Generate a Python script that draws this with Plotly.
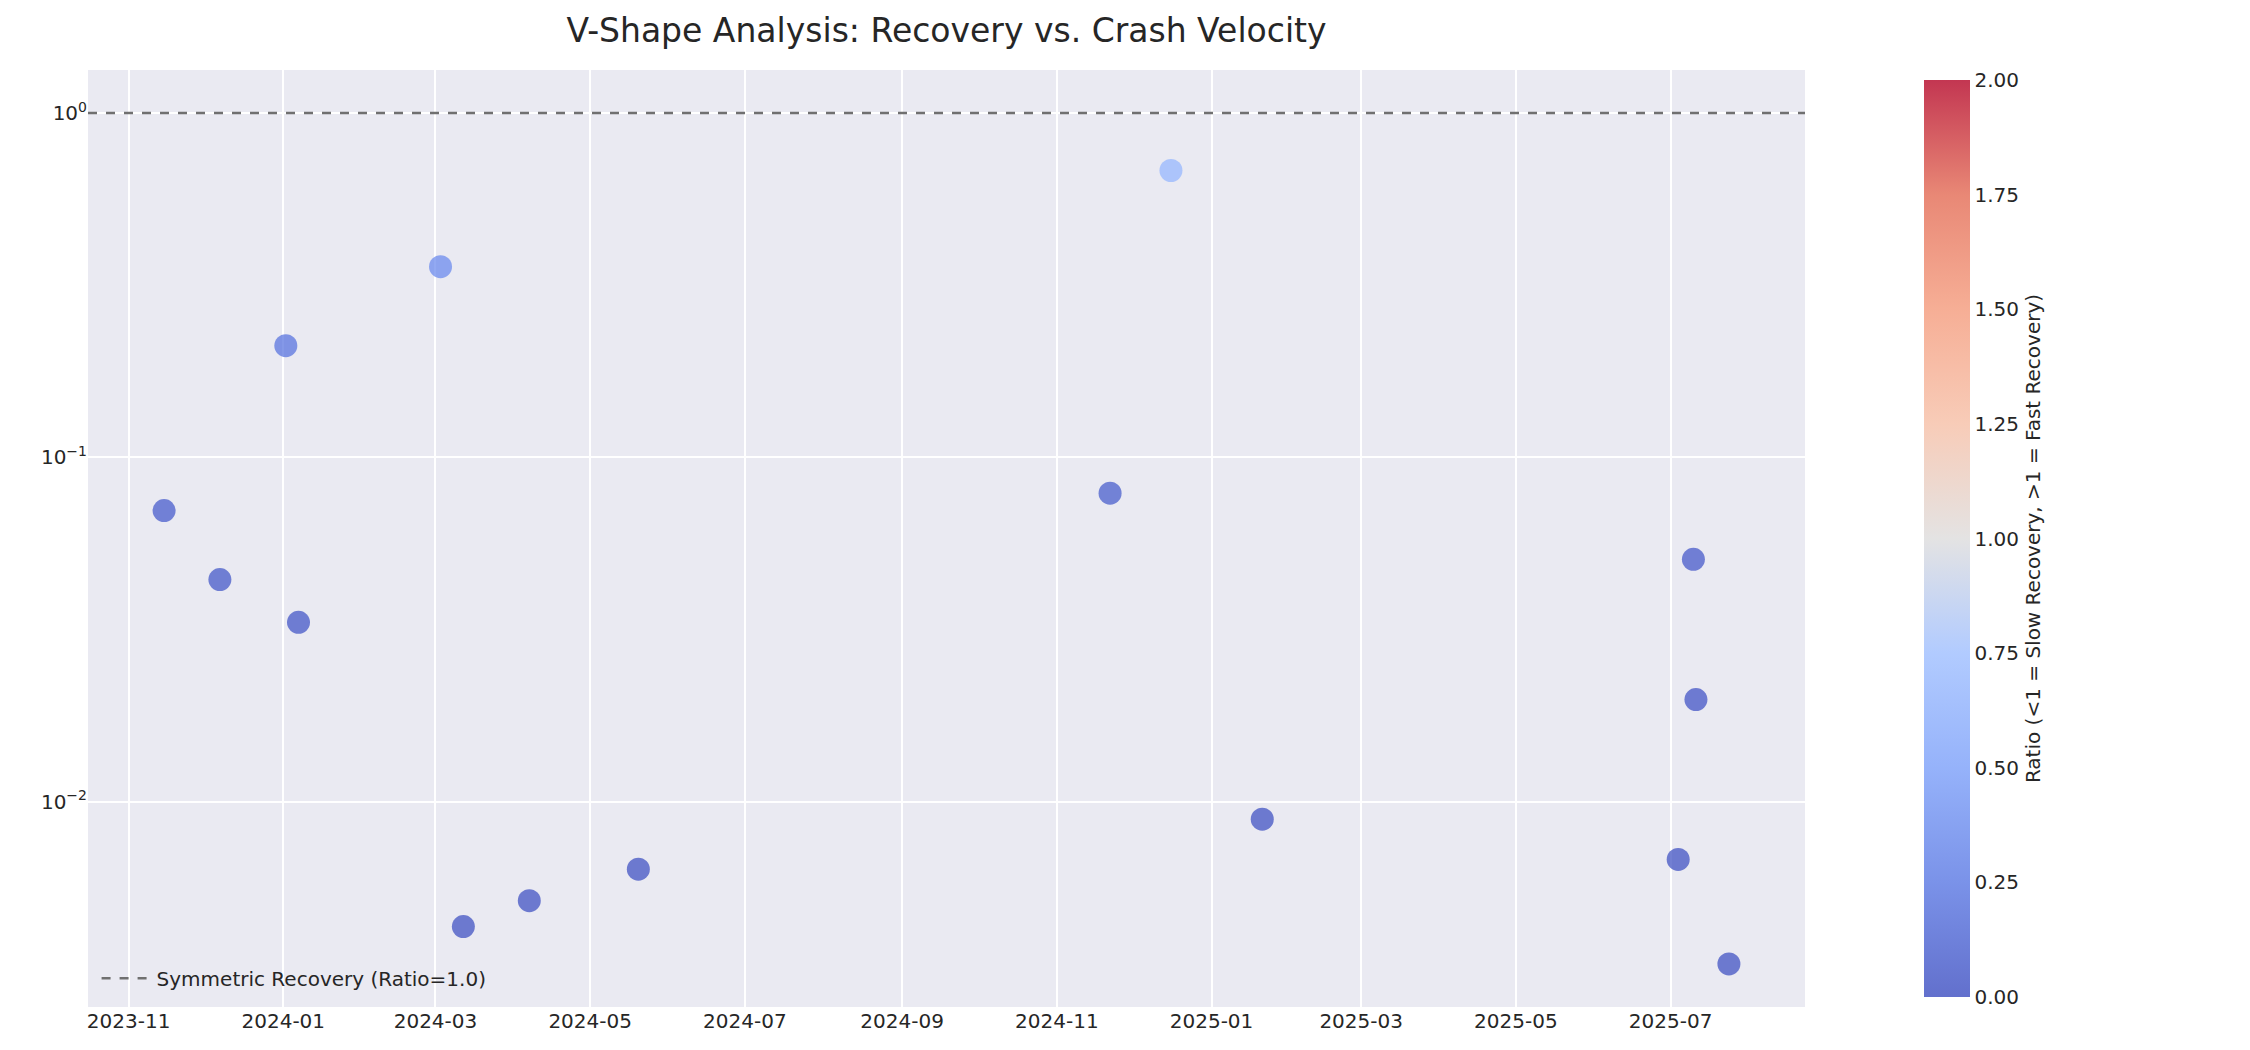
import plotly.graph_objects as go

dates = ["2023-11-15","2023-12-07","2024-01-02","2024-01-07","2024-03-03","2024-03-12",
         "2024-04-07","2024-05-20","2024-11-22","2024-12-16","2025-01-21","2025-07-04",
         "2025-07-10","2025-07-11","2025-07-24"]
ratios = [0.0701,0.0442,0.211,0.0332,0.358,0.00434,0.00516,0.00637,0.0787,0.681,
          0.0089,0.0068,0.0506,0.0198,0.00338]
xticks = ["2023-11-01","2024-01-01","2024-03-01","2024-05-01","2024-07-01","2024-09-01",
          "2024-11-01","2025-01-01","2025-03-01","2025-05-01","2025-07-01"]
xticklabels = [d[:7] for d in xticks]
yticks = [1, 0.1, 0.01]
yticklabels = ["10<sup>0</sup>", "10<sup>−1</sup>", "10<sup>−2</sup>"]

coolwarm = [[0.0,"rgba(59,76,192,0.8)"],[0.125,"rgba(89,119,227,0.8)"],[0.25,"rgba(123,159,249,0.8)"],
            [0.375,"rgba(158,190,255,0.8)"],[0.5,"rgba(221,220,220,0.8)"],[0.625,"rgba(246,191,166,0.8)"],
            [0.75,"rgba(244,154,123,0.8)"],[0.875,"rgba(227,106,83,0.8)"],[1.0,"rgba(180,4,38,0.8)"]]

fig = go.Figure()
fig.add_trace(go.Scatter(x=["2023-10-16","2025-08-23"], y=[1,1], mode="lines",
    line=dict(color="#707070", dash="dash", width=2.5),
    name="Symmetric Recovery (Ratio=1.0)"))
fig.add_trace(go.Scatter(x=dates, y=ratios, mode="markers", showlegend=False,
    marker=dict(size=23, color=ratios, colorscale=coolwarm, cmin=0, cmax=2, opacity=0.9,
                line=dict(width=0),
                colorbar=dict(x=1.0635, xanchor="left", y=0, yanchor="bottom", len=1,
                              thickness=46, outlinewidth=0, tickvals=[0,0.25,0.5,0.75,1,1.25,1.5,1.75,2],
                              ticktext=["0.00","0.25","0.50","0.75","1.00","1.25","1.50","1.75","2.00"],
                              tickfont=dict(size=20, color="#262626"), ticks="",
                              title=dict(text="Ratio (<1 = Slow Recovery, >1 = Fast Recovery)",
                                         side="right", font=dict(size=20, color="#262626"))))))

fig.update_layout(width=2250, height=1050, margin=dict(l=80, r=453, t=62, b=51, autoexpand=False),
    paper_bgcolor="white", plot_bgcolor="#EAEAF2",
    font=dict(family="DejaVu Sans", color="#262626"),
    title=dict(text="V-Shape Analysis: Recovery vs. Crash Velocity", x=0.5, xref="paper",
               y=0.99, yanchor="top", font=dict(size=33, color="#262626")),
    legend=dict(x=0.005, y=0.01, xanchor="left", yanchor="bottom", bgcolor="rgba(0,0,0,0)",
                font=dict(size=20), itemwidth=50),
    xaxis=dict(range=["2023-10-16","2025-08-23"], tickvals=xticks, ticktext=xticklabels,
               gridcolor="white", gridwidth=2, showline=False, zeroline=False, automargin=False,
               tickfont=dict(size=20), ticks=""),
    yaxis=dict(type="log", range=[-2.596, 0.125], tickvals=yticks, ticktext=yticklabels,
               gridcolor="white", gridwidth=2, zeroline=False, automargin=False,
               tickfont=dict(size=20), ticks=""))
fig.write_html("out.html")
